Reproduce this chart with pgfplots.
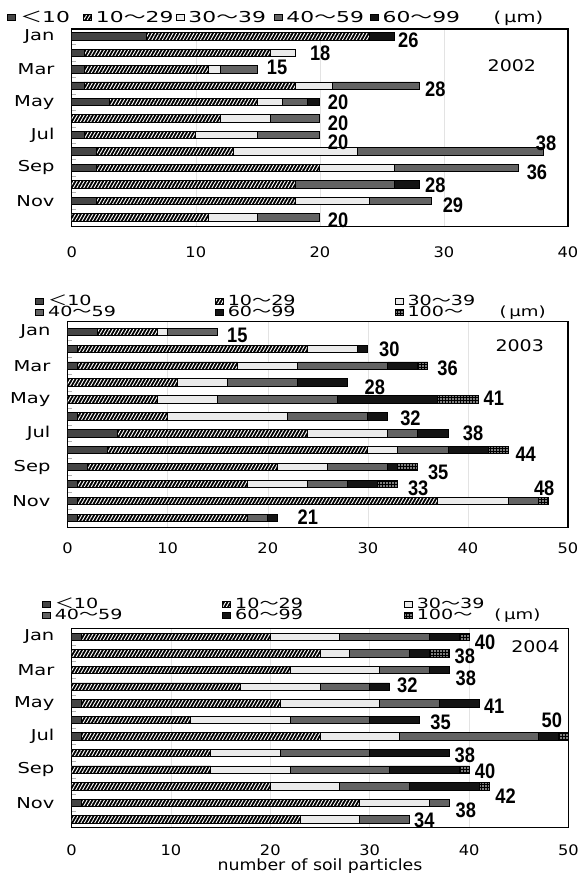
\documentclass[border=0pt]{standalone}
\usepackage{fontspec}
\setmainfont{DejaVu Sans}[FakeStretch=1.12]
\newfontfamily\cjk{Noto Sans CJK JP}[FakeStretch=1.12]
\newfontfamily\labfont{Liberation Sans}[FakeStretch=0.87]
\usepackage{graphicx}
\usepackage{pgfplots}
\usepackage{pgfplotstable}
\pgfplotsset{compat=1.18}
\usetikzlibrary{patterns.meta}

\definecolor{c1}{HTML}{454545}
\definecolor{c3}{HTML}{EBEBEB}
\definecolor{c4}{HTML}{636363}
\definecolor{c5}{HTML}{141414}

\newcommand{\LA}[1]{\scalebox{1.3}[1]{#1}}
\newcommand{\LB}[1]{\scalebox{1.22}[1]{#1}}
\newcommand{\MO}[1]{\scalebox{1.16}[1]{#1}}

% 2002: a=<10 b=10-29 c=30-39 d=40-59 e=60-99 ; t=total ; dx,dy = label offset
\pgfplotstableread{
m a b c d e t dx dy
1 6 18 0 0 2 26 3.7 -4.4
2 1 15 2 0 0 18 14.8 -1
3 1 10 1 3 0 15 8.9 2.3
4 1 17 3 7 0 28 5.9 -3.4
5 3 12 2 2 1 20 7.8 0
6 0 12 4 4 0 20 7.8 -4.4
7 1 9 5 5 0 20 7.8 -7.4
8 2 11 10 15 0 38 -7.4 8.7
9 2 18 6 10 0 36 8.2 -4.7
10 0 18 0 8 2 28 5.9 -1.3
11 2 16 6 5 0 29 11.1 -4.4
12 0 11 4 5 0 20 7.8 -3.4
}\dataA

% 2003: f=100-
\pgfplotstableread{
m a b c d e f t dx dy
1 3 6 1 5 0 0 15 9.3 -3.4
2 1 23 5 0 1 0 30 11.1 0
3 1 16 6 9 3 1 36 9.3 -2.3
4 0 11 5 7 5 0 28 16.7 -4.7
5 0 9 6 12 10 4 41 5.6 1
6 1 9 12 8 2 0 32 12.2 -2
7 5 19 8 3 3 0 38 14.8 0
8 4 26 3 5 4 2 44 7.4 -3.7
9 2 19 5 6 1 2 35 10 -5.4
10 1 17 6 4 3 2 33 10 -4
11 1 36 7 3 0 1 48 -14.1 12.7
12 1 17 0 2 1 0 21 19.7 1
}\dataB

% 2004
\pgfplotstableread{
m a b c d e f t dx dy
1 1 19 7 9 3 1 40 5.6 -5
2 0 25 3 6 2 2 38 5.2 -2.3
3 0 22 9 5 2 0 38 6.3 -8
4 0 17 8 5 2 0 32 7.4 1.3
5 1 20 10 6 4 0 41 4.8 -3
6 1 11 10 8 5 0 35 10.8 -2.7
7 1 24 8 14 2 1 50 -27 15.7
8 0 14 7 9 8 0 38 5.2 -2.3
9 0 14 8 10 7 1 40 5.6 -1.3
10 0 20 7 7 7 1 42 6.3 -10
11 1 28 7 2 0 0 38 6.3 -7.4
12 0 23 6 5 0 0 34 4.5 -0.7
}\dataC

\pgfplotsset{
  s1/.style={draw=black, line width=0.8pt, fill=c1},
  s2/.style={draw=black, line width=0.8pt, fill=black,
     postaction={pattern={Lines[angle=60,distance=3pt,line width=0.95pt]}, pattern color=white}},
  s3/.style={draw=black, line width=0.8pt, fill=c3},
  s4/.style={draw=black, line width=0.8pt, fill=c4},
  s5/.style={draw=black, line width=0.8pt, fill=c5},
  s6/.style={draw=black, line width=0.8pt, fill=black,
     postaction={pattern={Dots[distance=3pt,radius=0.85pt]}, pattern color=white}},
  legend image code/.code={\draw[#1] (0pt,-5.25pt) rectangle (10.5pt,5.25pt);},
  vallab/.style={draw=none, mark=none,
     nodes near coords={\labfont\bfseries\fontsize{21}{21}\selectfont\pgfplotspointmeta},
     nodes near coords align=horizontal,
     point meta=explicit symbolic,
     visualization depends on={\thisrow{dx}\as\dx},
     visualization depends on={\thisrow{dy}\as\dy},
     every node near coord/.append style={anchor=west, inner sep=0pt, text=black, xshift=\dx pt, yshift=\dy pt}},
  over/.style={scale only axis, hide axis, clip=false, y dir=reverse, xmin=0},
  panel/.style={
    scale only axis, xbar stacked, bar width=7.4pt, y dir=reverse, xmin=0,
    ytick={1,3,5,7,9,11}, yticklabels={\MO{Jan},\MO{Mar},\MO{May},\MO{Jul},\MO{Sep},\MO{Nov}},
    minor ytick={1.5,2.5,...,11.5},
    tick align=inside, major tick length=0pt, minor tick length=4.5pt,
    minor tick style={gray!60, line width=0.6pt},
    ytick pos=left, xtick pos=bottom,
    xmajorgrids, major grid style={gray!22, line width=0.5pt},
    axis line style={line width=1.1pt},
    /pgf/number format/assume math mode=true,
    xticklabel style={font=\fontsize{14.5}{14.5}\selectfont, inner sep=0pt, anchor=north},
    yticklabel style={font=\fontsize{15}{15}\selectfont, inner sep=0pt, anchor=east, xshift=-17pt},
    legend cell align=left,
    legend style={draw=none, fill=none, inner sep=0pt, outer sep=0pt, anchor=west, row sep=0pt,
      nodes={inner sep=0pt},
      /tikz/every odd column/.style={column sep=4pt},
      /tikz/every even column/.style={column sep=0pt}},
  },
}

\begin{document}
\begin{tikzpicture}
\useasboundingbox (0pt,0pt) rectangle (582pt,873pt);

% ---------------- 2002 ----------------
\begin{axis}[panel, at={(71.7pt,646.3pt)}, anchor=south west,
  width=496.3pt, height=197.7pt, xmax=40, xtick={0,10,20,30,40},
  ymin=0.556, ymax=12.57,
  xticklabel style={yshift=-19.5pt},
  legend columns=5,
  legend style={at={(axis description cs:-0.1294,1.0556)}, font=\fontsize{15}{15}\selectfont}]
\addplot[s1] table[x=a,y=m]{\dataA};
\addlegendentry{\makebox[62.9pt][l]{\LA{{\cjk ＜}10}}}
\addplot[s2] table[x=b,y=m]{\dataA};
\addlegendentry{\makebox[79.7pt][l]{\LA{10{\cjk ～}29}}}
\addplot[s3] table[x=c,y=m]{\dataA};
\addlegendentry{\makebox[85.2pt][l]{\LA{30{\cjk ～}39}}}
\addplot[s4] table[x=d,y=m]{\dataA};
\addlegendentry{\makebox[83.4pt][l]{\LA{40{\cjk ～}59}}}
\addplot[s5] table[x=e,y=m]{\dataA};
\addlegendentry{\makebox[111pt][l]{\LA{60{\cjk ～}99}}\MO{(\,μm)}}
\node[font=\fontsize{16}{16}\selectfont] at (axis description cs:0.887,0.813) {\scalebox{1.06}[1]{2002}};
\end{axis}
\begin{axis}[over, at={(71.7pt,646.3pt)}, anchor=south west,
  width=496.3pt, height=197.7pt, xmax=40, ymin=0.556, ymax=12.57]
\addplot[vallab] table[x=t,y=m,meta=t]{\dataA};
\end{axis}

% ---------------- 2003 ----------------
\begin{axis}[panel, at={(67.6pt,345.1pt)}, anchor=south west,
  width=500.4pt, height=206.1pt, xmax=50, xtick={0,10,20,30,40,50},
  ymin=0.402, ymax=12.60,
  xticklabel style={yshift=-14.8pt},
  legend columns=3,
  legend style={at={(axis description cs:-0.0645,1.0665)}, font=\fontsize{14}{14}\selectfont,
     nodes={text height=8.3pt, text depth=2.5pt}}]
\addplot[s1] table[x=a,y=m]{\dataB};
\addlegendentry{\makebox[166.9pt][l]{\LB{{\cjk ＜}10}}}
\addplot[s2] table[x=b,y=m]{\dataB};
\addlegendentry{\makebox[166.9pt][l]{\LB{10{\cjk ～}29}}}
\addplot[s3] table[x=c,y=m]{\dataB};
\addlegendentry{\LB{30{\cjk ～}39}}
\addplot[s4] table[x=d,y=m]{\dataB};
\addlegendentry{\makebox[166.9pt][l]{\LB{40{\cjk ～}59}}}
\addplot[s5] table[x=e,y=m]{\dataB};
\addlegendentry{\makebox[166.9pt][l]{\LB{60{\cjk ～}99}}}
\addplot[s6] table[x=f,y=m]{\dataB};
\addlegendentry{\makebox[92pt][l]{\LB{100{\cjk ～}}}\MO{(\,μm)}}
\node[font=\fontsize{16}{16}\selectfont] at (axis description cs:0.9035,0.886) {\scalebox{1.06}[1]{2003}};
\end{axis}
\begin{axis}[over, at={(67.6pt,345.1pt)}, anchor=south west,
  width=500.4pt, height=206.1pt, xmax=50, ymin=0.402, ymax=12.60]
\addplot[vallab] table[x=t,y=m,meta=t]{\dataB};
\end{axis}

% ---------------- 2004 ----------------
\begin{axis}[panel, at={(71.5pt,45.1pt)}, anchor=south west,
  width=497pt, height=199.4pt, xmax=50, xtick={0,10,20,30,40,50},
  ymin=0.494, ymax=12.51,
  xticklabel style={yshift=-16.4pt},
  xlabel={number of soil particles},
  xlabel style={font=\fontsize{15.5}{15.5}\selectfont, at={(axis description cs:0.5,0)}, anchor=center, yshift=-38.5pt},
  legend columns=3,
  legend style={at={(axis description cs:-0.0594,1.0878)}, font=\fontsize{14}{14}\selectfont,
     nodes={text height=8.3pt, text depth=2.5pt}}]
\addplot[s1] table[x=a,y=m]{\dataC};
\addlegendentry{\makebox[167.6pt][l]{\LB{{\cjk ＜}10}}}
\addplot[s2] table[x=b,y=m]{\dataC};
\addlegendentry{\makebox[168.8pt][l]{\LB{10{\cjk ～}29}}}
\addplot[s3] table[x=c,y=m]{\dataC};
\addlegendentry{\LB{30{\cjk ～}39}}
\addplot[s4] table[x=d,y=m]{\dataC};
\addlegendentry{\makebox[167.6pt][l]{\LB{40{\cjk ～}59}}}
\addplot[s5] table[x=e,y=m]{\dataC};
\addlegendentry{\makebox[168.8pt][l]{\LB{60{\cjk ～}99}}}
\addplot[s6] table[x=f,y=m]{\dataC};
\addlegendentry{\makebox[77.6pt][l]{\LB{100{\cjk ～}}}\MO{(\,μm)}}
\node[font=\fontsize{16}{16}\selectfont] at (axis description cs:0.9336,0.907) {\scalebox{1.06}[1]{2004}};
\end{axis}
\begin{axis}[over, at={(71.5pt,45.1pt)}, anchor=south west,
  width=497pt, height=199.4pt, xmax=50, ymin=0.494, ymax=12.51]
\addplot[vallab] table[x=t,y=m,meta=t]{\dataC};
\end{axis}
\end{tikzpicture}
\end{document}
